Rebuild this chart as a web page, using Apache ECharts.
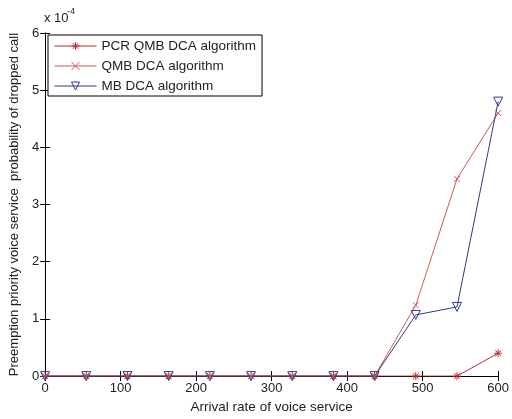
<!DOCTYPE html>
<html>
<head>
<meta charset="utf-8">
<script src="https://cdn.jsdelivr.net/npm/echarts@6/dist/echarts.min.js"></script>
<style>
  html, body { margin: 0; padding: 0; background: #fff; }
  #chart { width: 512px; height: 419px; }
</style>
</head>
<body>
<div id="chart"></div>
<script>
// arrival rate of voice service (x positions of the samples)
const arrivalRate = [0, 54.5, 109.1, 163.6, 218.2, 272.7, 327.3, 381.8, 436.4, 490.9, 545.5, 600];
// dropped call probability, in units of 1e-4
const pcrQmb = [0, 0, 0, 0, 0, 0, 0, 0, 0, 0, 0, 0.4];
const qmb = [0, 0, 0, 0, 0, 0, 0, 0, 0, 1.24, 3.45, 4.6];
const mb = [0, 0, 0, 0, 0, 0, 0, 0, 0, 1.07, 1.21, 4.8];

const names = ["PCR QMB DCA algorithm", "QMB DCA algorithm", "MB DCA algorithm"];
const font = "Liberation Sans, Arial, sans-serif";

const starPath = "path://M5,0V10M0,5H10M1.5,1.5L8.5,8.5M1.5,8.5L8.5,1.5";
const crossPath = "path://M0,0L10,10M0,10L10,0";
const triPath = "path://M0,0L10,0L5,9Z";

function pairs(ys) {
  return arrivalRate.map((x, i) => [x, ys[i]]);
}

function makeSeries(name, ys, color, symbol, size) {
  return {
    name: name,
    type: "line",
    data: pairs(ys),
    symbol: symbol,
    symbolSize: size,
    showAllSymbol: true,
    lineStyle: { color: color, width: 1 },
    itemStyle: { color: "rgba(0,0,0,0)", borderColor: color, borderWidth: 1 },
    emphasis: { disabled: true },
  };
}

const chart = echarts.init(document.getElementById("chart"));

const tickStyle = { inside: true, length: 5, lineStyle: { color: "#000" } };
const lineStyle = { lineStyle: { color: "#000", width: 1 } };

chart.setOption({
  animation: false,
  backgroundColor: "#fff",
  grid: { left: 45, right: 7, top: 33, bottom: 39 },
  graphic: [
    { type: "text", left: 44, top: 12, style: { text: "x 10", font: "13px " + font, fill: "#222" } },
    { type: "text", left: 67, top: 7, style: { text: "-4", font: "9px " + font, fill: "#222" } },
  ],
  legend: {
    data: names,
    orient: "vertical",
    left: 48,
    top: 35,
    itemWidth: 42,
    itemHeight: 10,
    itemGap: 6,
    padding: [4, 6, 3, 6],
    borderColor: "#000",
    borderWidth: 1,
    borderRadius: 0,
    backgroundColor: "#fff",
    lineStyle: { width: 1 },
    itemStyle: { borderWidth: 1 },
    textStyle: { fontFamily: font, fontSize: 13.5, color: "#222" },
  },
  xAxis: [
    {
      type: "value",
      min: 0,
      max: 600,
      interval: 100,
      name: "Arrival rate of voice service",
      nameLocation: "middle",
      nameGap: 22,
      nameTextStyle: { fontFamily: font, fontSize: 13.5, color: "#222" },
      axisLine: lineStyle,
      axisTick: tickStyle,
      axisLabel: { fontFamily: font, fontSize: 13, color: "#222", margin: 6 },
      splitLine: { show: false },
    },
    {
      type: "value",
      position: "top",
      min: 0,
      max: 600,
      interval: 100,
      axisLine: lineStyle,
      axisTick: tickStyle,
      axisLabel: { show: false },
      splitLine: { show: false },
    },
  ],
  yAxis: [
    {
      type: "value",
      min: 0,
      max: 6,
      interval: 1,
      name: "Preemption priority voice service  probability of dropped call",
      nameLocation: "middle",
      nameGap: 22,
      nameTextStyle: { fontFamily: font, fontSize: 13, color: "#222" },
      axisLine: { show: true, lineStyle: { color: "#000", width: 1 } },
      axisTick: { show: true, inside: true, length: 5, lineStyle: { color: "#000" } },
      axisLabel: { fontFamily: font, fontSize: 13, color: "#222", margin: 6 },
      splitLine: { show: false },
    },
    {
      type: "value",
      position: "right",
      min: 0,
      max: 6,
      interval: 1,
      axisLine: { show: true, lineStyle: { color: "#000", width: 1 } },
      axisTick: { show: true, inside: true, length: 5, lineStyle: { color: "#000" } },
      axisLabel: { show: false },
      splitLine: { show: false },
    },
  ],
  series: [
    makeSeries(names[0], pcrQmb, "#b82c2c", starPath, 8),
    makeSeries(names[1], qmb, "#cc5a5a", crossPath, 6),
    makeSeries(names[2], mb, "#2e3a8c", triPath, 9),
  ],
});
</script>
</body>
</html>
